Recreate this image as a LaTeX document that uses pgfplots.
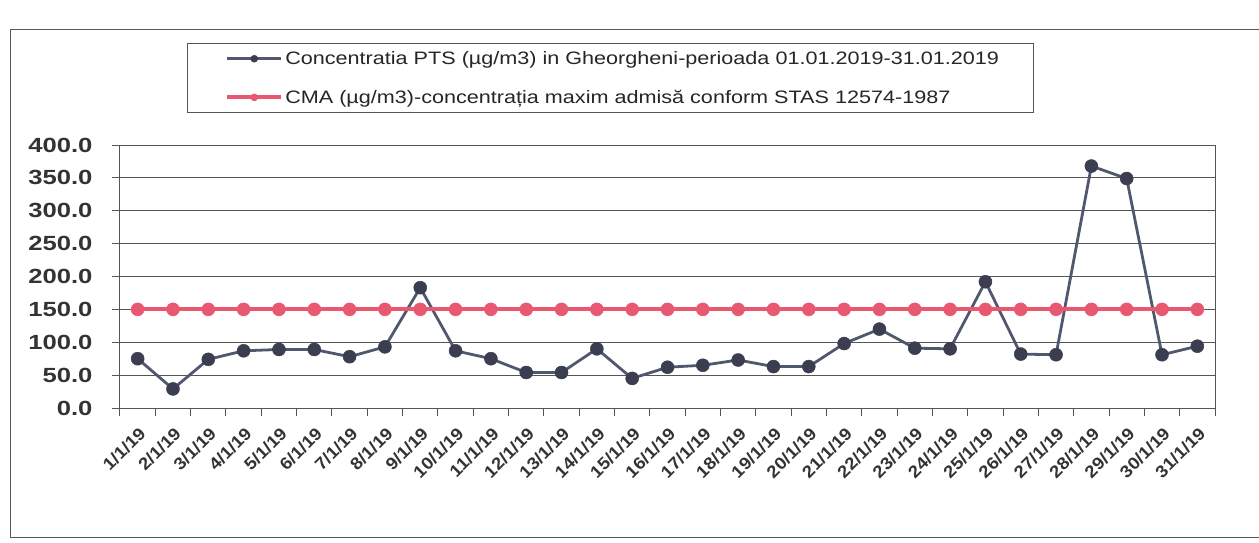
\documentclass[border=0pt]{standalone}
\usepackage{pgfplots}
\usepackage{pgfplotstable}
\pgfplotsset{compat=1.18}
\usepackage{fontspec}
\setmainfont{Liberation Sans}
\newfontfamily\labfont[FakeStretch=1.25]{Liberation Sans}
\newfontfamily\xlabfont[FakeStretch=1.1]{Liberation Sans}
\newfontfamily\legfont[FakeStretch=1.2]{Liberation Sans}
\definecolor{ser}{RGB}{80,88,110}
\definecolor{serm}{RGB}{58,62,80}
\definecolor{cma}{RGB}{232,88,112}
\definecolor{gridc}{RGB}{85,85,85}

\pgfplotstableread{
day pts cma
1 75 150
2 29 150
3 74 150
4 87 150
5 89 150
6 89 150
7 78 150
8 93 150
9 183 150
10 87 150
11 75 150
12 54 150
13 54 150
14 90 150
15 45 150
16 62 150
17 65 150
18 73 150
19 63 150
20 63 150
21 98 150
22 120 150
23 91 150
24 90 150
25 192 150
26 82 150
27 81 150
28 368 150
29 349 150
30 81 150
31 94 150
}\datatable

\begin{document}
\begin{tikzpicture}
\path[use as bounding box] (0,0) rectangle (1259pt,542pt);
\draw[gray!70!black, line width=1pt] (1259pt,512pt) -- (10pt,512pt) -- (10pt,5pt) -- (1259pt,5pt);
\begin{axis}[
  at={(120pt,134pt)}, anchor=south west,
  scale only axis, width=1095pt, height=263pt,
  xmin=0.5, xmax=31.5, ymin=0, ymax=400,
  ytick={0,50,...,400},
  ymajorgrids, grid style={gridc, line width=1pt},
  axis line style={gridc, line width=1pt},
  tick style={gridc, line width=1pt},
  tick align=outside, tick pos=left,
  major tick length=8pt, minor tick length=8pt,
  xtick={1,...,31},
  minor xtick={0.5,1.5,...,31.5},
  major x tick style={draw=none},
  xticklabels={1/1/19,2/1/19,3/1/19,4/1/19,5/1/19,6/1/19,7/1/19,8/1/19,9/1/19,10/1/19,11/1/19,12/1/19,13/1/19,14/1/19,15/1/19,16/1/19,17/1/19,18/1/19,19/1/19,20/1/19,21/1/19,22/1/19,23/1/19,24/1/19,25/1/19,26/1/19,27/1/19,28/1/19,29/1/19,30/1/19,31/1/19},
  xticklabel style={rotate=45, anchor=east, font=\xlabfont\bfseries\fontsize{17}{17}\selectfont, text=black!80, inner sep=1pt, xshift=-6pt, yshift=-14pt},
  /pgf/number format/assume math mode=true,
  yticklabel={\pgfmathprintnumber[fixed,fixed zerofill,precision=1]{\tick}},
  yticklabel style={font=\labfont\bfseries\fontsize{20.5}{20.5}\selectfont, text=black!80, xshift=-16pt},
  legend style={at={(0.061,1.388)}, anchor=north west, draw=gridc, line width=1pt,
    font=\legfont\fontsize{18}{18}\selectfont, text=black!85, inner xsep=4pt, inner ysep=6pt,
    row sep=20pt},
  legend cell align=left,
  legend image code/.code={
    \path (-34pt,0pt);
    \draw[mark repeat=2,mark phase=2,#1] plot coordinates {(0pt,0pt) (27pt,0pt) (54pt,0pt)};
  },
]
\addplot[color=ser, line width=2.8pt, mark=*, mark size=6.5pt, mark options={fill=serm, draw=serm, line width=0.5pt}, legend image post style={mark size=3.5pt, line width=3.5pt}]
  table[x=day,y=pts]{\datatable};
\addlegendentry{Concentratia PTS (µg/m3) in Gheorgheni-perioada 01.01.2019-31.01.2019\rule{28pt}{0pt}}
\addplot[color=cma, line width=4pt, mark=*, mark size=6.5pt, mark options={fill=cma, draw=cma, line width=0.5pt}, legend image post style={mark size=3.5pt}]
  table[x=day,y=cma]{\datatable};
\addlegendentry{CMA (µg/m3)-concentrația maxim admisă conform STAS 12574-1987}
\end{axis}
\end{tikzpicture}
\end{document}
